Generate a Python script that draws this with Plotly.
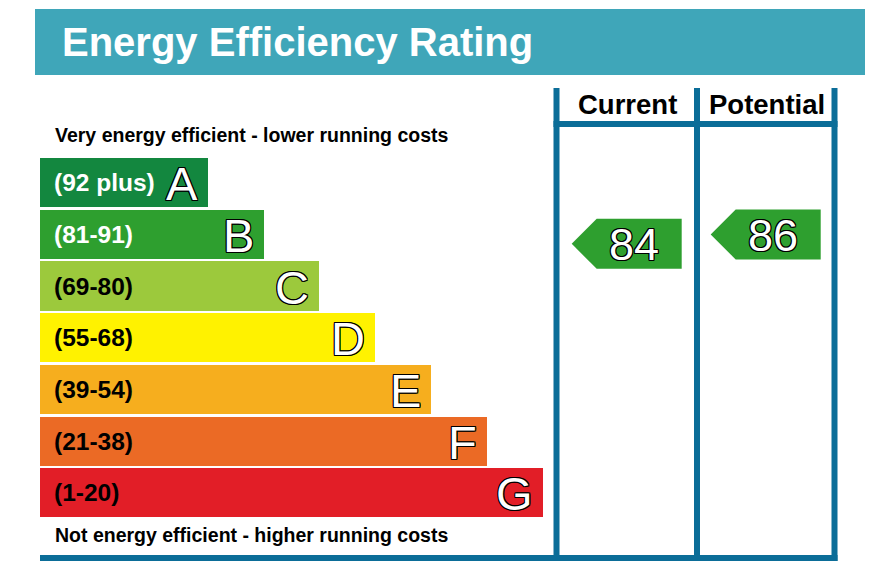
import plotly.graph_objects as go

# ---------------- data ----------------
bands = ["A", "B", "C", "D", "E", "F", "G"]
band_ranges = ["(92 plus)", "(81-91)", "(69-80)", "(55-68)", "(39-54)", "(21-38)", "(1-20)"]
band_low = [92, 81, 69, 55, 39, 21, 1]
band_high = [100, 91, 80, 68, 54, 38, 20]
band_rank = [1, 2, 3, 4, 5, 6, 7]
band_colors = ["#13873f", "#2e9f2f", "#9cc93c", "#fff200", "#f6ae1e", "#eb6a25", "#e21e27"]
range_text_colors = ["white", "white", "black", "black", "black", "black", "black"]

columns = ["Current", "Potential"]
ratings = [84, 86]
arrow_color = "#2e9f2f"

title = "Energy Efficiency Rating"
top_note = "Very energy efficient - lower running costs"
bottom_note = "Not energy efficient - higher running costs"

# ---------------- layout constants ----------------
PAGE_W, PAGE_H = 873, 581
OFF = 8                       # default page body margin
W, H = PAGE_W, PAGE_H - 2 * OFF
FONT = "Liberation Sans, Arial, Helvetica, sans-serif"
BLUE = "#0b6d98"
TEAL = "#3fa6b9"
OUTLINE = ("1px 1px 0 #000, -1px -1px 0 #000, 1px -1px 0 #000, -1px 1px 0 #000, "
           "0 1px 0 #000, 0 -1px 0 #000, 1px 0 0 #000, -1px 0 0 #000")

# band axis (y): page pixel = 182.8 + idx * 51.67
Y0, YSTEP = 182.8, 51.67
# rank axis (x): page pixel = 151.87 + rank * 55.83
X0, XSTEP = 151.87, 55.83


def px(x):
    return (x - OFF) / W


def py(y):
    return 1 - (y - OFF) / H


def value_to_band_pos(v):
    for i, (lo, hi) in enumerate(zip(band_low, band_high)):
        if lo <= v <= hi:
            return i - 0.5 + (hi - v + 0.5) / (hi - lo + 1)
    return len(bands) - 1


fig = go.Figure()

# bars
fig.add_trace(go.Bar(
    y=list(range(len(bands))), x=[r + 2 for r in band_rank], base=-2,
    orientation="h", width=49.3 / YSTEP,
    marker=dict(color=band_colors, line=dict(width=0)),
    hoverinfo="skip", showlegend=False,
))

annotations = []
for i, b in enumerate(bands):
    annotations.append(dict(
        x=-2, y=i, xref="x", yref="y", xanchor="left", yanchor="middle",
        xshift=12, text=band_ranges[i], showarrow=False,
        font=dict(family=FONT, size=24.5, color=range_text_colors[i], weight="bold"),
    ))
    annotations.append(dict(
        x=band_rank[i], y=i, xref="x", yref="y", xanchor="right", yanchor="middle",
        xshift=-8, yshift=-1, text=b, showarrow=False,
        font=dict(family=FONT, size=47, color="white", shadow=OUTLINE),
    ))

# arrows (x2 axis in page pixel units)
col_left = [571.7, 710.7]
for c, v in enumerate(ratings):
    yc = value_to_band_pos(v)
    half = 25 / YSTEP
    xl = col_left[c]
    xs = [xl, xl + 25, xl + 110, xl + 110, xl + 25, xl]
    ys = [yc, yc - half, yc - half, yc + half, yc + half, yc]
    fig.add_trace(go.Scatter(
        x=xs, y=ys, xaxis="x2", yaxis="y", mode="lines", fill="toself",
        fillcolor=arrow_color, line=dict(width=0, color=arrow_color),
        hoverinfo="skip", showlegend=False,
    ))
    annotations.append(dict(
        x=xl + 62, y=yc, xref="x2", yref="y", xanchor="center", yanchor="middle",
        text=str(v), showarrow=False, yshift=-1,
        font=dict(family=FONT, size=45, color="white", shadow=OUTLINE),
    ))

# title banner
shapes = [
    dict(type="rect", xref="paper", yref="paper", x0=px(35), x1=px(PAGE_W + 30), y0=py(75), y1=py(9),
         fillcolor=TEAL, line=dict(width=0), layer="below"),
]
annotations.append(dict(
    x=px(60), y=py(42), xref="paper", yref="paper", xanchor="left", yanchor="middle",
    text=title, showarrow=False,
    font=dict(family=FONT, size=40, color="white", weight="bold"),
))

# frame lines
for xv in [556.5, 697, 834.5]:
    shapes.append(dict(type="line", xref="paper", yref="paper", x0=px(xv), x1=px(xv),
                       y0=py(88), y1=py(561), line=dict(color=BLUE, width=6)))
shapes.append(dict(type="line", xref="paper", yref="paper", x0=px(553.5), x1=px(837.5),
                   y0=py(124), y1=py(124), line=dict(color=BLUE, width=6)))
shapes.append(dict(type="line", xref="paper", yref="paper", x0=px(40), x1=px(837.5),
                   y0=py(558), y1=py(558), line=dict(color=BLUE, width=6)))

# column headers
for c, name in enumerate(columns):
    annotations.append(dict(
        x=px([627, 767][c]), y=py(104), xref="paper", yref="paper",
        xanchor="center", yanchor="middle", text=name, showarrow=False,
        font=dict(family=FONT, size=27.5, color="black", weight="bold"),
    ))

# notes
annotations.append(dict(
    x=px(53), y=py(135), xref="paper", yref="paper", xanchor="left", yanchor="middle",
    text=top_note, showarrow=False,
    font=dict(family=FONT, size=19.5, color="black", weight="bold"),
))
annotations.append(dict(
    x=px(53), y=py(535), xref="paper", yref="paper", xanchor="left", yanchor="middle",
    text=bottom_note, showarrow=False,
    font=dict(family=FONT, size=19.5, color="black", weight="bold"),
))

fig.update_layout(
    width=W, height=H, margin=dict(l=0, r=0, t=0, b=0),
    paper_bgcolor="white", plot_bgcolor="white",
    xaxis=dict(range=[(OFF - X0) / XSTEP, (OFF + W - X0) / XSTEP], visible=False, fixedrange=True),
    xaxis2=dict(range=[OFF, OFF + W], overlaying="x", visible=False, fixedrange=True),
    yaxis=dict(range=[(OFF + H - Y0) / YSTEP, (OFF - Y0) / YSTEP], visible=False, fixedrange=True),
    shapes=shapes, annotations=annotations, showlegend=False, bargap=0,
)

fig.write_html("out.html")
